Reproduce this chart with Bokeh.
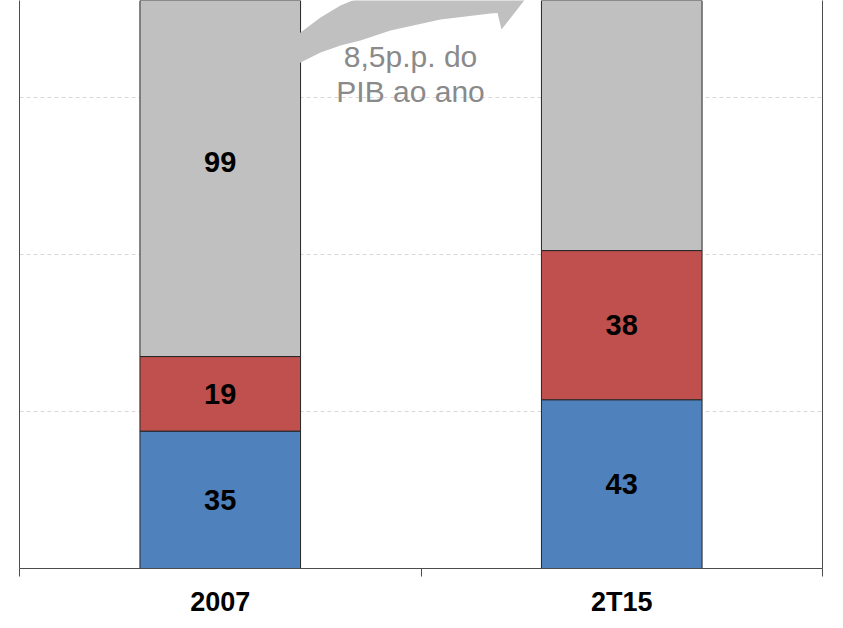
import numpy as np
from bokeh.plotting import figure
from bokeh.models import ColumnDataSource, Range1d, LinearAxis, FixedTicker, Grid
from bokeh.core.properties import value
from bokeh.embed import file_html
from bokeh.resources import INLINE

# ---- data ----
categories = ["2007", "2T15"]
blue_vals = [35, 43]
red_vals = [19, 38]
gray_vals = [99, 140]
series_colors = ["#4f81bd", "#c0504d", "#c0c0c0"]
grid_ticks = [40, 80, 120]
note_lines = ["8,5p.p. do", "PIB ao ano"]

# ---- layout ----
Y_MAX = 144.71
p = figure(width=843, height=628, x_range=Range1d(0, len(categories)),
           y_range=Range1d(0, Y_MAX), output_backend="svg", toolbar_location=None,
           min_border_left=19, min_border_right=21, min_border_top=0,
           min_border_bottom=60, x_axis_type=None, y_axis_type=None)
p.outline_line_color = None
p.background_fill_color = "white"

p.add_layout(Grid(dimension=1, ticker=FixedTicker(ticks=grid_ticks),
                  grid_line_color="#d9d9d9", grid_line_dash="4 3", grid_line_width=1))

centers = [i + 0.5 for i in range(len(categories))]
series = [blue_vals, red_vals, gray_vals]
bottom = np.zeros(len(categories))
lab_x, lab_y, lab_t = [], [], []
for vals, col in zip(series, series_colors):
    vals = np.array(vals, dtype=float)
    top = bottom + vals
    src = ColumnDataSource(dict(x=centers, bottom=bottom.tolist(), top=top.tolist()))
    p.vbar(x="x", bottom="bottom", top="top", width=0.4, source=src,
           fill_color=col, line_color="#262626", line_width=1)
    for c, b, v in zip(centers, bottom, vals):
        mid = b + v / 2
        if mid < Y_MAX - 5:  # label lies inside the visible part of the chart
            lab_x.append(c); lab_y.append(mid); lab_t.append(str(int(v)))
    bottom = top

# ---- curved arrow annotation (outline in data units) ----
arrow_x = [0.5205, 0.6127, 0.6999, 0.7497, 0.7995, 0.8493, 0.9240, 1.0486, 1.1731, 1.1905,
           1.2005, 1.2727, 1.1731,
           1.1606, 1.0735, 0.9489, 0.8294, 0.7995, 0.7497, 0.6999, 0.6102]
arrow_y = [112.36, 121.27, 128.92, 131.46, 133.25, 134.52, 137.07, 139.87, 141.40, 141.53,
           137.32, 146.75, 153.12,
           148.54, 148.28, 147.26, 144.71, 143.44, 140.38, 136.56, 124.59]
p.patch(arrow_x, arrow_y, fill_color="#c0c0c0", line_color=None)

# segment labels
p.text(x=lab_x, y=lab_y, text=lab_t, text_align="center", text_baseline="middle",
       text_font=value("Liberation Sans"), text_font_style="bold",
       text_font_size="29px", text_color="black")

# note text
p.text(x=[0.974, 0.974], y=[130.5, 121.6], text=note_lines, text_align="center",
       text_baseline="alphabetic", text_font=value("Liberation Sans"),
       text_font_size="30px", text_color="#8a8a8a")

AX_COL = "#4d4d4d"
xaxis = LinearAxis(ticker=FixedTicker(ticks=centers, minor_ticks=list(range(len(categories) + 1))),
                   major_label_overrides={c: n for c, n in zip(centers, categories)},
                   major_tick_line_color=None, major_tick_out=0, major_tick_in=0,
                   minor_tick_in=0, minor_tick_out=8, minor_tick_line_color=AX_COL,
                   axis_line_color=AX_COL, major_label_standoff=10,
                   major_label_text_font="Liberation Sans",
                   major_label_text_font_style="bold",
                   major_label_text_font_size="27px",
                   major_label_text_color="black")
p.add_layout(xaxis, "below")

for side in ("left", "right"):
    ax = LinearAxis(ticker=FixedTicker(ticks=[]), major_label_text_font_size="0px",
                    major_tick_out=0, major_tick_in=0, minor_tick_out=0, minor_tick_in=0,
                    major_label_standoff=0, axis_line_color=AX_COL)
    p.add_layout(ax, side)

open("out.html", "w").write(file_html(p, INLINE))
